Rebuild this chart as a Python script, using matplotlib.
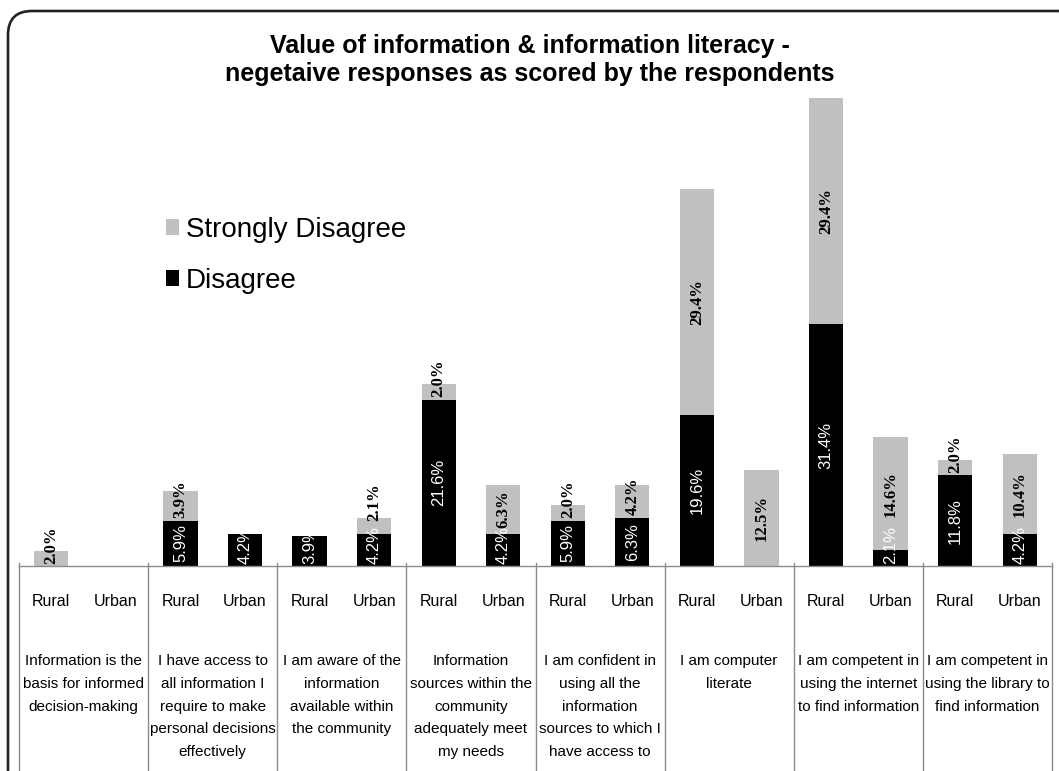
import matplotlib
matplotlib.use("Agg")
import matplotlib.pyplot as plt
from matplotlib.patches import FancyBboxPatch, Patch
from matplotlib.lines import Line2D
from matplotlib.transforms import IdentityTransform
import numpy as np

# ---- data -----------------------------------------------------------------
statements = [
    "Information is the\nbasis for informed\ndecision-making",
    "I have access to\nall information I\nrequire to make\npersonal decisions\neffectively",
    "I am aware of the\ninformation\navailable within\nthe community",
    "Information\nsources within the\ncommunity\nadequately meet\nmy needs",
    "I am confident in\nusing all the\ninformation\nsources to which I\nhave access to",
    "I am computer\nliterate",
    "I am competent in\nusing the internet\nto find information",
    "I am competent in\nusing the library to\nfind information",
]
areas = ["Rural", "Urban"]

rural_disagree = [0.0, 5.9, 3.9, 21.6, 5.9, 19.6, 31.4, 11.8]
rural_strongly = [2.0, 3.9, 0.0, 2.0, 2.0, 29.4, 29.4, 2.0]
urban_disagree = [0.0, 4.2, 4.2, 4.2, 6.3, 0.0, 2.1, 4.2]
urban_strongly = [0.0, 0.0, 2.1, 6.3, 4.2, 12.5, 14.6, 10.4]

title = ("Value of information & information literacy -\n"
         "negetaive responses as scored by the respondents")

# ---- figure setup ---------------------------------------------------------
W, H = 1059, 771
fig = plt.figure(figsize=(W / 100, H / 100), dpi=100)
fig.patch.set_facecolor("white")

def fx(x):
    return x / W

def fy(y):
    return 1 - y / H

GREY = "#c0c0c0"
DIV = "#8c8c8c"
SANS = ["Liberation Sans", "DejaVu Sans"]
SERIF = ["Liberation Serif", "DejaVu Serif"]

left, right, base, top = 19, 1052, 566, 98
ax = fig.add_axes([fx(left), fy(base), fx(right - left), (base - top) / H])

n = len(statements)
disagree = np.array([v for pair in zip(rural_disagree, urban_disagree) for v in pair])
strongly = np.array([v for pair in zip(rural_strongly, urban_strongly) for v in pair])
xpos = np.arange(2 * n)
bw = 0.53

ax.bar(xpos, disagree, bw, color="black", linewidth=0)
ax.bar(xpos, strongly, bw, bottom=disagree, color=GREY, linewidth=0)

ax.set_xlim(-0.5, 2 * n - 0.5)
ax.set_ylim(0, (disagree + strongly).max())
ax.set_xticks([])
ax.set_yticks([])
for s in ("left", "right", "top"):
    ax.spines[s].set_visible(False)
ax.spines["bottom"].set_color(DIV)
ax.spines["bottom"].set_linewidth(1)
ax.patch.set_alpha(0)

# value labels: centred when they fit, otherwise growing up from the segment base
px_per_unit = (base - top) / (disagree + strongly).max()
text_units = 42 / px_per_unit
pad = 0.3

def label_segments(values, bottoms, floors, color, family, weight):
    """Write labels; return the upper end of each label in data units."""
    ends = np.zeros_like(values)
    for k, (x, v, b, f) in enumerate(zip(xpos, values, bottoms, floors)):
        if v <= 0:
            ends[k] = b
            continue
        txt = f"{v:.1f}%"
        if v >= text_units:
            ax.text(x, b + v / 2, txt, rotation=90, ha="center", va="center",
                    color=color, fontsize=12, family=family, weight=weight,
                    clip_on=False)
            ends[k] = b + v / 2 + text_units / 2
        else:
            start = max(b + pad, f)
            ax.text(x, start, txt, rotation=90, ha="center", va="bottom",
                    color=color, fontsize=12, family=family, weight=weight,
                    clip_on=False)
            ends[k] = start + text_units
    return ends

d_ends = label_segments(disagree, np.zeros_like(disagree),
                        np.zeros_like(disagree), "white", SANS, "normal")
label_segments(strongly, disagree, d_ends + 0.1, "black", SERIF, "bold")

# ---- category table below the axis ---------------------------------------
gw = (right - left) / n
for i in range(n + 1):
    xx = left + i * gw
    fig.add_artist(Line2D([fx(xx), fx(xx)], [fy(base - 3), fy(H + 5)],
                          color=DIV, lw=1))
for i in range(n):
    for j, a in enumerate(areas):
        cx = left + i * gw + (j + 0.5) * gw / 2
        fig.text(fx(cx), fy(601), a, ha="center", va="center",
                 fontsize=11.5, family=SANS)
    fig.text(fx(left + (i + 0.5) * gw), fy(654), statements[i],
             ha="center", va="top", fontsize=11, family=SANS,
             linespacing=1.8, multialignment="center")

# ---- title and legend -----------------------------------------------------
fig.text(0.5, fy(60), title, ha="center", va="center", fontsize=18,
         weight="bold", family=SANS, linespacing=1.18)

handles = [Patch(facecolor=GREY, edgecolor="none", label="Strongly Disagree"),
           Patch(facecolor="black", edgecolor="none", label="Disagree")]
fig.legend(handles=handles, loc="upper left",
           bbox_to_anchor=(fx(166), fy(217)), frameon=False,
           prop={"family": SANS, "size": 20}, handlelength=0.47,
           handleheight=0.47, handletextpad=0.25, labelspacing=0.9,
           borderaxespad=0, borderpad=0)

# ---- rounded outer frame ---------------------------------------------------
frame = FancyBboxPatch((8, -40), 1075, (H - 11) + 40,
                       boxstyle="round,pad=0,rounding_size=24",
                       transform=IdentityTransform(), facecolor="none",
                       edgecolor="#222222", lw=1.9)
fig.add_artist(frame)

fig.savefig("out.png", dpi=100)
